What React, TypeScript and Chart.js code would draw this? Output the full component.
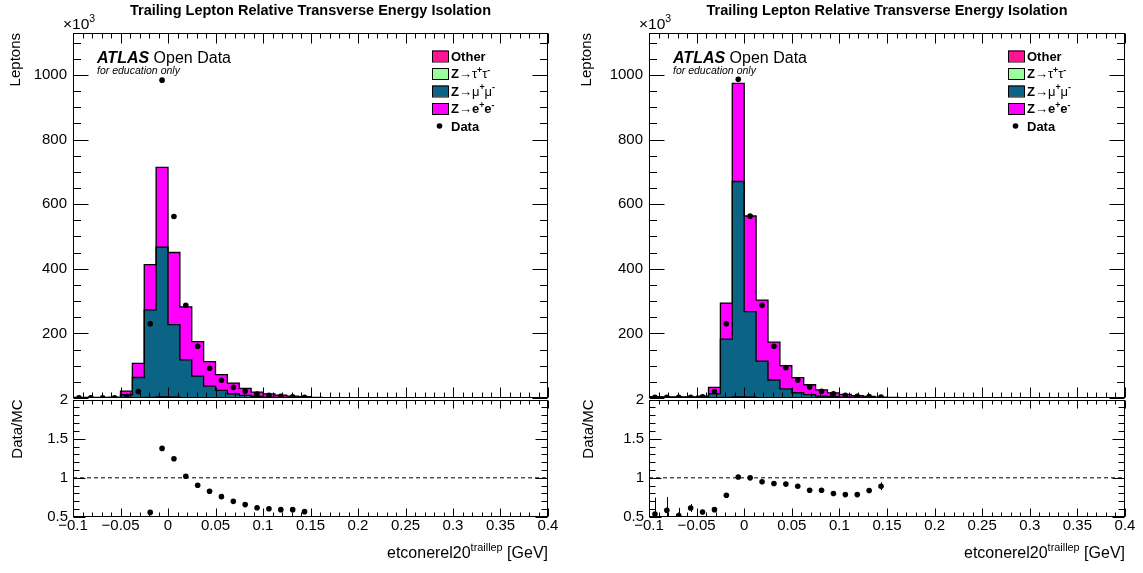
import React, { useEffect, useRef } from "react";
import { Chart, registerables } from "chart.js";

Chart.register(...registerables);

const FONT = "'Liberation Sans', Arial, Helvetica, sans-serif";
Chart.defaults.font.family = FONT;
Chart.defaults.color = "#000";

// ---------- binning / axis definitions ----------
const X_MIN = -0.1;
const X_MAX = 0.4;
const BIN_WIDTH = 0.0125;
const N_BINS = 40;
const BIN_EDGES: number[] = Array.from({ length: N_BINS + 1 }, (_, i) => Math.round((X_MIN + i * BIN_WIDTH) * 1e5) / 1e5);
const BIN_CENTERS: number[] = BIN_EDGES.slice(0, -1).map((e) => Math.round((e + BIN_WIDTH / 2) * 1e6) / 1e6);

const X_TICKS = [-0.1, -0.05, 0, 0.05, 0.1, 0.15, 0.2, 0.25, 0.3, 0.35, 0.4];
const X_TICK_LABELS = ["\u22120.1", "\u22120.05", "0", "0.05", "0.1", "0.15", "0.2", "0.25", "0.3", "0.35", "0.4"];
const MAIN_Y_MAX = 1130;
const MAIN_Y_TICKS = [200, 400, 600, 800, 1000];
const MAIN_Y_LABELS = ["200", "400", "600", "800", "1000"];
const RATIO_Y_TICKS = [0.5, 1, 1.5, 2];
const RATIO_Y_LABELS = ["0.5", "1", "1.5", "2"];

const TITLE = "Trailing Lepton Relative Transverse Energy Isolation";
const Y_TITLE = "Leptons";
const RATIO_TITLE = "Data/MC";

const COLORS = { other: "#ff1493", tautau: "#99ff99", mumu: "#0b6386", ee: "#ff00ff" };

// ---------- left panel values (x10^3 leptons per bin) ----------
const L_OTHER = [
  0, 0, 0, 0, 0, 0.3, 1.2, 2.0, 1.5, 0.8,
  0.5, 0.3, 0.2, 0.1, 0.1, 0, 0, 0, 0, 0,
  0, 0, 0, 0, 0, 0, 0, 0, 0, 0,
  0, 0, 0, 0, 0, 0, 0, 0, 0, 0,
];
const L_TAUTAU = [
  0, 0, 0, 0, 0, 0.2, 0.8, 1.2, 0.9, 0.5,
  0.3, 0.2, 0.1, 0.1, 0, 0, 0, 0, 0, 0,
  0, 0, 0, 0, 0, 0, 0, 0, 0, 0,
  0, 0, 0, 0, 0, 0, 0, 0, 0, 0,
];
const L_MUMU = [
  0.8, 0.8, 0.9, 1, 10, 63, 271, 464, 225, 117,
  67, 36, 23, 13, 8, 5, 3, 2, 1.5, 1,
  0.5, 0.3, 0.2, 0, 0, 0, 0, 0, 0, 0,
  0, 0, 0, 0, 0, 0, 0, 0, 0, 0,
];
const L_EE = [
  1.2, 1.2, 1.1, 2, 11, 44, 140, 247, 223, 164,
  107, 76, 49, 33, 22, 13, 10, 7, 4.5, 3,
  1.5, 0.7, 0.3, 0, 0, 0, 0, 0, 0, 0,
  0, 0, 0, 0, 0, 0, 0, 0, 0, 0,
];
const L_DATA = [
  0.8, 0.8, 0.8, 1, 5, 20, 230, 984, 562, 287,
  160, 92, 55, 33, 21, 12, 8, 5.3, 3.5, 2.3,
  null, null, null, null, null, null, null, null, null, null,
  null, null, null, null, null, null, null, null, null, null,
];
const L_RATIO = [
  null, null, null, null, null, null, 0.559, 1.376, 1.244, 1.02,
  0.906, 0.829, 0.76, 0.7, 0.658, 0.619, 0.606, 0.594, 0.594, 0.568,
  null, null, null, null, null, null, null, null, null, null,
  null, null, null, null, null, null, null, null, null, null,
];
const L_RATIO_ERR = [
  0, 0, 0, 0, 0, 0, 0.004, 0.002, 0.002, 0.003,
  0.004, 0.005, 0.006, 0.008, 0.01, 0.012, 0.014, 0.016, 0.018, 0.02,
  0, 0, 0, 0, 0, 0, 0, 0, 0, 0,
  0, 0, 0, 0, 0, 0, 0, 0, 0, 0,
];

// ---------- right panel values ----------
const R_OTHER = [
  0, 0, 0, 0, 0, 0.3, 1.2, 2.0, 1.5, 0.8,
  0.5, 0.3, 0.2, 0.1, 0.1, 0, 0, 0, 0, 0,
  0, 0, 0, 0, 0, 0, 0, 0, 0, 0,
  0, 0, 0, 0, 0, 0, 0, 0, 0, 0,
];
const R_TAUTAU = [
  0, 0, 0, 0, 0, 0.2, 0.8, 1.2, 0.9, 0.5,
  0.3, 0.2, 0.1, 0.1, 0, 0, 0, 0, 0, 0,
  0, 0, 0, 0, 0, 0, 0, 0, 0, 0,
  0, 0, 0, 0, 0, 0, 0, 0, 0, 0,
];
const R_MUMU = [
  2, 1.8, 1.8, 1.8, 3, 13, 180, 667, 265, 113,
  55, 28, 16, 10, 6, 4, 3, 2, 1, 0.7,
  0.3, 0.2, 0.1, 0, 0, 0, 0, 0, 0, 0,
  0, 0, 0, 0, 0, 0, 0, 0, 0, 0,
];
const R_EE = [
  2, 1.7, 1.7, 1.7, 3, 19.5, 112, 304, 296, 189,
  117, 71.5, 46.7, 30.8, 18.9, 12, 8, 5, 4, 2.3,
  1.2, 0.6, 0.3, 0, 0, 0, 0, 0, 0, 0,
  0, 0, 0, 0, 0, 0, 0, 0, 0, 0,
];
const R_DATA = [
  2.1, 2, 1.8, 2.1, 3.4, 20, 230, 987, 563, 287,
  160, 94, 56, 34, 21, 13, 8.6, 5.5, 4.2, 2.7,
  null, null, null, null, null, null, null, null, null, null,
  null, null, null, null, null, null, null, null, null, null,
];
const R_RATIO = [
  0.538, 0.585, 0.517, 0.615, 0.564, 0.594, 0.777, 1.01, 1.0, 0.949,
  0.927, 0.92, 0.893, 0.841, 0.841, 0.799, 0.786, 0.786, 0.837, 0.893,
  null, null, null, null, null, null, null, null, null, null,
  null, null, null, null, null, null, null, null, null, null,
];
const R_RATIO_ERR = [
  0.21, 0.17, 0.1, 0.05, 0.02, 0.01, 0.005, 0.003, 0.003, 0.004,
  0.005, 0.006, 0.008, 0.01, 0.012, 0.015, 0.016, 0.018, 0.03, 0.05,
  0, 0, 0, 0, 0, 0, 0, 0, 0, 0,
  0, 0, 0, 0, 0, 0, 0, 0, 0, 0,
];

// ---------- layout ----------
const MAIN_TOP = 0;
const MAIN_H = 425;
const MAIN_AREA_TOP = 33;
const MAIN_AREA_BOTTOM = 398;
const RATIO_TOP = 375;
const RATIO_H = 198;
const RATIO_AREA_TOP = 399.5;
const RATIO_AREA_BOTTOM = 517;

type Part = { t: string; b?: boolean; i?: boolean; sup?: boolean };

const LEGEND_ROWS: { parts: Part[]; color: string | null }[] = [
  { parts: [{ t: "Other", b: true }], color: COLORS.other },
  { parts: [{ t: "Z", b: true }, { t: "\u2192" }, { t: "\u03c4" }, { t: "+", sup: true, b: true }, { t: "\u03c4" }, { t: "-", sup: true, b: true }], color: COLORS.tautau },
  { parts: [{ t: "Z", b: true }, { t: "\u2192" }, { t: "\u03bc" }, { t: "+", sup: true, b: true }, { t: "\u03bc" }, { t: "-", sup: true, b: true }], color: COLORS.mumu },
  { parts: [{ t: "Z", b: true }, { t: "\u2192" }, { t: "e", b: true }, { t: "+", sup: true, b: true }, { t: "e", b: true }, { t: "-", sup: true, b: true }], color: COLORS.ee },
  { parts: [{ t: "Data", b: true }], color: null },
];

function drawParts(ctx: CanvasRenderingContext2D, x: number, y: number, parts: Part[], size: number, align: "left" | "right" | "center" = "left") {
  const fontFor = (p: Part) => `${p.i ? "italic " : ""}${p.b ? "bold " : ""}${p.sup ? size * 0.68 : size}px ${FONT}`;
  let total = 0;
  for (const p of parts) {
    ctx.font = fontFor(p);
    total += ctx.measureText(p.t).width;
  }
  let cx = align === "right" ? x - total : align === "center" ? x - total / 2 : x;
  ctx.textAlign = "left";
  ctx.textBaseline = "alphabetic";
  ctx.fillStyle = "#000";
  for (const p of parts) {
    ctx.font = fontFor(p);
    ctx.fillText(p.t, cx, p.sup ? y - size * 0.42 : y);
    cx += ctx.measureText(p.t).width;
  }
}

function stepPoints(vals: number[]) {
  const pts: { x: number; y: number }[] = [];
  for (let k = 0; k < vals.length; k++) {
    pts.push({ x: BIN_EDGES[k], y: vals[k] });
    pts.push({ x: BIN_EDGES[k + 1], y: vals[k] });
  }
  return pts;
}

function drawFrameTicks(chart: any, o: { xMajor: number; xMinor: number; yMajor: number; yMinor: number; yTicks: [number, boolean][] }) {
  const { ctx, chartArea: a } = chart;
  const xs = chart.scales.x;
  const ys = chart.scales.y;
  const L = Math.round(a.left) + 0.5;
  const R = Math.round(a.right) - 0.5;
  const T = Math.round(a.top) + 0.5;
  const B = Math.round(a.bottom) - 0.5;
  ctx.save();
  ctx.strokeStyle = "#000";
  ctx.lineWidth = 1;
  ctx.strokeRect(L, T, R - L, B - T);
  ctx.beginPath();
  for (let i = -10; i <= 40; i++) {
    const major = i % 5 === 0;
    const x = Math.round(xs.getPixelForValue(i / 100)) + 0.5;
    const len = major ? o.xMajor : o.xMinor;
    ctx.moveTo(x, B);
    ctx.lineTo(x, B - len);
    ctx.moveTo(x, T);
    ctx.lineTo(x, T + len);
  }
  for (const [v, major] of o.yTicks) {
    const y = Math.round(ys.getPixelForValue(v)) + 0.5;
    const len = major ? o.yMajor : o.yMinor;
    ctx.moveTo(L, y);
    ctx.lineTo(L + len, y);
    ctx.moveTo(R, y);
    ctx.lineTo(R - len, y);
  }
  ctx.stroke();
  ctx.restore();
}

type PanelSpec = {
  left: number;
  width: number;
  areaLeft: number;
  areaRight: number;
  other: number[];
  tautau: number[];
  mumu: number[];
  ee: number[];
  data: (number | null)[];
  ratio: (number | null)[];
  ratioErr: number[];
};

const MAIN_Y_TICK_MARKS: [number, boolean][] = Array.from({ length: 23 }, (_, i) => [i * 50, i % 4 === 0] as [number, boolean]);
const RATIO_Y_TICK_MARKS: [number, boolean][] = Array.from({ length: 16 }, (_, i) => [Math.round((0.5 + i * 0.1) * 10) / 10, i % 5 === 0] as [number, boolean]);

function mainConfig(p: PanelSpec): any {
  const layers = [
    { label: "Other", vals: p.other, color: COLORS.other },
    { label: "Z\u2192\u03c4\u03c4", vals: p.tautau, color: COLORS.tautau },
    { label: "Z\u2192\u03bc\u03bc", vals: p.mumu, color: COLORS.mumu },
    { label: "Z\u2192ee", vals: p.ee, color: COLORS.ee },
  ];
  let running = new Array(N_BINS).fill(0);
  const hist = layers.map((l, i) => {
    running = running.map((r: number, k: number) => r + l.vals[k]);
    return {
      type: "line",
      label: l.label,
      data: stepPoints(running),
      borderColor: "#000",
      borderWidth: 1.3,
      backgroundColor: l.color,
      fill: i === 0 ? "origin" : "-1",
      pointRadius: 0,
      tension: 0,
      order: 10 - i,
    };
  });
  const dataPts = BIN_CENTERS.map((x, k) => (p.data[k] == null ? null : { x, y: p.data[k] as number })).filter(Boolean);
  const plugin = {
    id: "rootMain",
    afterDatasetsDraw(chart: any) {
      drawFrameTicks(chart, { xMajor: 10, xMinor: 5, yMajor: 15, yMinor: 7.5, yTicks: MAIN_Y_TICK_MARKS.filter(([v]) => v <= MAIN_Y_MAX) });
    },
    afterDraw(chart: any) {
      const { ctx, chartArea: a } = chart;
      ctx.save();
      drawParts(ctx, (a.left + a.right) / 2, 15, [{ t: TITLE, b: true }], 14.5, "center");
      drawParts(ctx, a.left - 10, 29, [{ t: "\u00d710" }, { t: "3", sup: true }], 15.5);
      drawParts(ctx, a.left + 24, 62.5, [{ t: "ATLAS", b: true, i: true }, { t: " Open Data" }], 16);
      drawParts(ctx, a.left + 24, 73.5, [{ t: "for education only", i: true }], 10.5);
      const rowY = [56, 73.5, 91, 108.5, 126];
      LEGEND_ROWS.forEach((row, r) => {
        const cy = rowY[r];
        const bx = a.left + 359;
        if (row.color) {
          ctx.fillStyle = row.color;
          ctx.fillRect(bx, cy - 5.5, 16, 11);
          ctx.strokeStyle = "#000";
          ctx.lineWidth = 1;
          ctx.strokeRect(bx + 0.5, cy - 5.5 + 0.5, 16, 11);
        } else {
          ctx.fillStyle = "#000";
          ctx.beginPath();
          ctx.arc(bx + 7.5, cy, 2.8, 0, Math.PI * 2);
          ctx.fill();
        }
        drawParts(ctx, bx + 19, cy + 4.7, row.parts, 13);
      });
      ctx.restore();
    },
  };
  return {
    type: "line",
    data: {
      datasets: [
        ...hist,
        {
          type: "line",
          label: "Data",
          data: dataPts,
          showLine: false,
          pointRadius: 2.8,
          pointBackgroundColor: "#000",
          pointBorderWidth: 0,
          order: 0,
        },
      ],
    },
    options: {
      animation: false,
      responsive: false,
      events: [],
      layout: { padding: { left: 0, right: p.width - p.areaRight, top: MAIN_AREA_TOP - MAIN_TOP, bottom: MAIN_TOP + MAIN_H - MAIN_AREA_BOTTOM } },
      plugins: { legend: { display: false }, tooltip: { enabled: false }, title: { display: false }, filler: { drawTime: "beforeDatasetsDraw" } },
      scales: {
        x: { type: "linear", min: X_MIN, max: X_MAX, display: false },
        y: {
          type: "linear",
          min: 0,
          max: MAIN_Y_MAX,
          position: "left",
          grid: { display: false, drawTicks: false },
          border: { display: false },
          afterBuildTicks: (s: any) => {
            s.ticks = MAIN_Y_TICKS.map((v) => ({ value: v }));
          },
          afterFit: (s: any) => {
            s.width = p.areaLeft;
          },
          ticks: { font: { size: 15 }, color: "#000", padding: 6, callback: (_v: any, i: number) => MAIN_Y_LABELS[i] },
          title: { display: true, text: Y_TITLE, align: "end", color: "#000", font: { size: 15 }, padding: { top: 7, bottom: 0 } },
        },
      },
    },
    plugins: [plugin],
  };
}

function ratioConfig(p: PanelSpec): any {
  const pts = BIN_CENTERS.map((x, k) => (p.ratio[k] == null ? null : { x, y: p.ratio[k] as number })).filter(Boolean);
  const plugin = {
    id: "rootRatio",
    beforeDatasetsDraw(chart: any) {
      const { ctx, chartArea: a } = chart;
      const xs = chart.scales.x;
      const ys = chart.scales.y;
      ctx.save();
      ctx.beginPath();
      ctx.rect(a.left, a.top, a.right - a.left, a.bottom - a.top);
      ctx.clip();
      ctx.strokeStyle = "#000";
      ctx.lineWidth = 1;
      ctx.beginPath();
      BIN_CENTERS.forEach((c, k) => {
        const r = p.ratio[k];
        const e = p.ratioErr[k];
        if (r == null || !e) return;
        const x = Math.round(xs.getPixelForValue(c)) + 0.5;
        ctx.moveTo(x, ys.getPixelForValue(r - e));
        ctx.lineTo(x, ys.getPixelForValue(r + e));
      });
      ctx.stroke();
      ctx.restore();
    },
    afterDatasetsDraw(chart: any) {
      drawFrameTicks(chart, { xMajor: 8, xMinor: 4, yMajor: 12, yMinor: 6, yTicks: RATIO_Y_TICK_MARKS });
    },
    afterDraw(chart: any) {
      const { ctx, chartArea: a } = chart;
      ctx.save();
      drawParts(ctx, a.right, 558 - RATIO_TOP, [{ t: "etconerel20" }, { t: "traillep", sup: true }, { t: " [GeV]" }], 16, "right");
      ctx.restore();
    },
  };
  return {
    type: "line",
    data: {
      datasets: [
        {
          type: "line",
          label: "ratio",
          data: pts,
          showLine: false,
          pointRadius: 2.8,
          pointBackgroundColor: "#000",
          pointBorderWidth: 0,
          order: 0,
        },
        {
          type: "line",
          label: "unity",
          data: [
            { x: X_MIN, y: 1 },
            { x: X_MAX, y: 1 },
          ],
          borderColor: "#000",
          borderWidth: 1,
          borderDash: [4, 3],
          pointRadius: 0,
          order: 1,
        },
      ],
    },
    options: {
      animation: false,
      responsive: false,
      events: [],
      layout: { padding: { left: 0, right: p.width - p.areaRight, top: RATIO_AREA_TOP - RATIO_TOP, bottom: 0 } },
      plugins: { legend: { display: false }, tooltip: { enabled: false }, title: { display: false } },
      scales: {
        x: {
          type: "linear",
          min: X_MIN,
          max: X_MAX,
          position: "bottom",
          grid: { display: false, drawTicks: false },
          border: { display: false },
          afterBuildTicks: (s: any) => {
            s.ticks = X_TICKS.map((v) => ({ value: v }));
          },
          afterFit: (s: any) => {
            s.height = RATIO_TOP + RATIO_H - RATIO_AREA_BOTTOM;
          },
          ticks: { font: { size: 15 }, color: "#000", padding: 0, autoSkip: false, maxRotation: 0, minRotation: 0, callback: (_v: any, i: number) => X_TICK_LABELS[i] },
        },
        y: {
          type: "linear",
          min: 0.5,
          max: 2,
          position: "left",
          grid: { display: false, drawTicks: false },
          border: { display: false },
          afterBuildTicks: (s: any) => {
            s.ticks = RATIO_Y_TICKS.map((v) => ({ value: v }));
          },
          afterFit: (s: any) => {
            s.width = p.areaLeft;
          },
          ticks: { font: { size: 15 }, color: "#000", padding: 5, callback: (_v: any, i: number) => RATIO_Y_LABELS[i] },
          title: { display: true, text: RATIO_TITLE, align: "end", color: "#000", font: { size: 15 }, padding: { top: 9, bottom: 0 } },
        },
      },
    },
    plugins: [plugin],
  };
}

function ChartCanvas({ left, top, width, height, make }: { left: number; top: number; width: number; height: number; make: () => any }) {
  const ref = useRef<HTMLCanvasElement>(null);
  useEffect(() => {
    const chart = new Chart(ref.current as HTMLCanvasElement, make());
    return () => chart.destroy();
  }, []);
  return <canvas ref={ref} width={width} height={height} style={{ position: "absolute", left, top, width, height }} />;
}

const LEFT_PANEL: PanelSpec = {
  left: 0,
  width: 571,
  areaLeft: 73,
  areaRight: 548,
  other: L_OTHER,
  tautau: L_TAUTAU,
  mumu: L_MUMU,
  ee: L_EE,
  data: L_DATA,
  ratio: L_RATIO,
  ratioErr: L_RATIO_ERR,
};
const RIGHT_PANEL: PanelSpec = {
  left: 571,
  width: 572,
  areaLeft: 78,
  areaRight: 554,
  other: R_OTHER,
  tautau: R_TAUTAU,
  mumu: R_MUMU,
  ee: R_EE,
  data: R_DATA,
  ratio: R_RATIO,
  ratioErr: R_RATIO_ERR,
};

export default function App() {
  return (
    <div style={{ position: "absolute", left: 0, top: 0, width: 1143, height: 573, background: "#fff", overflow: "hidden" }}>
      {[LEFT_PANEL, RIGHT_PANEL].map((p, i) => (
        <React.Fragment key={i}>
          <ChartCanvas left={p.left} top={MAIN_TOP} width={p.width} height={MAIN_H} make={() => mainConfig(p)} />
          <ChartCanvas left={p.left} top={RATIO_TOP} width={p.width} height={RATIO_H} make={() => ratioConfig(p)} />
        </React.Fragment>
      ))}
    </div>
  );
}
